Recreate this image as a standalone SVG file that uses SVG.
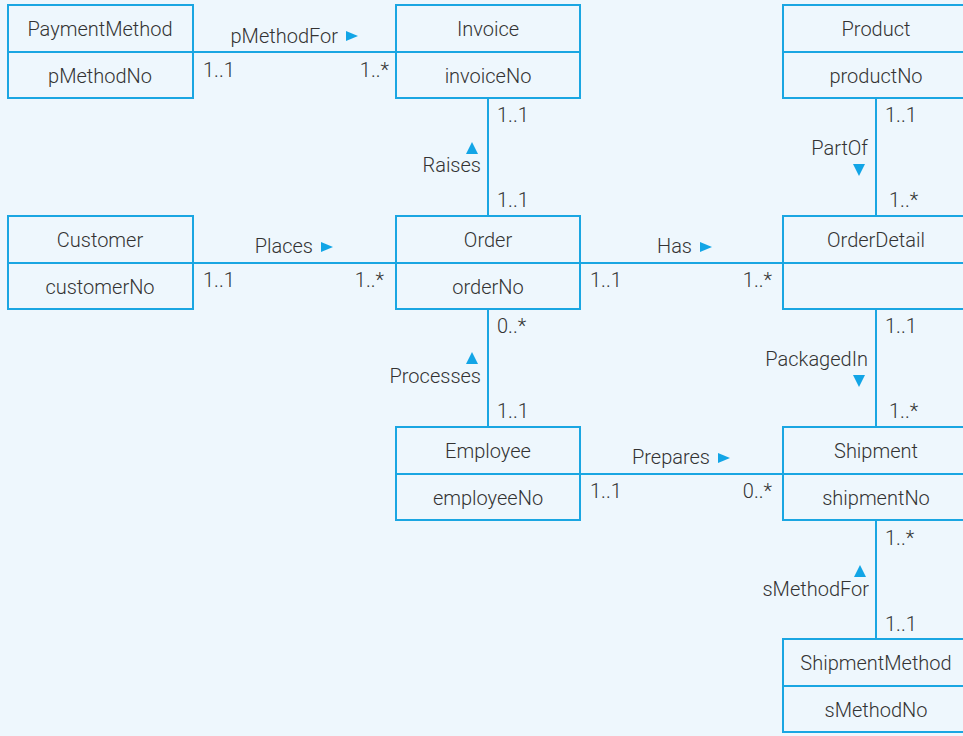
<svg xmlns="http://www.w3.org/2000/svg" width="963" height="736" viewBox="0 0 963 736">
<defs>
<style>
.bg{fill:#eef7fd}
.box{fill:none;stroke:#1aa6e2;stroke-width:2}
.ln{fill:none;stroke:#1aa6e2;stroke-width:2}
.t{font-family:Roboto,"Liberation Sans",Arial,sans-serif;font-weight:300;font-size:20px;fill:#333}
.c{text-anchor:middle}
.e{text-anchor:end}
.tri{fill:#12a5e6}
</style>
</defs>
<rect class="bg" x="0" y="0" width="963" height="736"/>
<g id="connectors">
<line class="ln" x1="193" y1="52" x2="396" y2="52"/>
<line class="ln" x1="488" y1="98" x2="488" y2="216"/>
<line class="ln" x1="876" y1="98" x2="876" y2="216"/>
<line class="ln" x1="193" y1="263" x2="396" y2="263"/>
<line class="ln" x1="580" y1="263" x2="783" y2="263"/>
<line class="ln" x1="488" y1="309" x2="488" y2="427"/>
<line class="ln" x1="876" y1="309" x2="876" y2="427"/>
<line class="ln" x1="580" y1="474" x2="783" y2="474"/>
<line class="ln" x1="876" y1="520" x2="876" y2="639"/>
<text class="t e" x="338" y="43">pMethodFor</text><polygon class="tri" points="346,31 358,36 346,41"/>
<text class="t" x="203" y="77">1..1</text><text class="t e" x="389" y="77">1..*</text>
<text class="t" x="497" y="122">1..1</text><text class="t" x="497" y="207">1..1</text>
<polygon class="tri" points="472,142 478,154 466,154"/><text class="t e" x="481" y="172">Raises</text>
<text class="t e" x="313" y="253">Places</text><polygon class="tri" points="321,242 333,247 321,252"/>
<text class="t" x="203" y="287">1..1</text><text class="t e" x="384" y="287">1..*</text>
<text class="t e" x="692" y="253">Has</text><polygon class="tri" points="700,242 712,247 700,252"/>
<text class="t" x="590" y="287">1..1</text><text class="t e" x="772" y="287">1..*</text>
<text class="t" x="885" y="122">1..1</text><text class="t e" x="868" y="155">PartOf</text>
<polygon class="tri" points="853,164 865,164 859,176"/><text class="t" x="889" y="207">1..*</text>
<text class="t" x="497" y="333">0..*</text><polygon class="tri" points="472,352 478,364 466,364"/>
<text class="t e" x="481" y="383">Processes</text><text class="t" x="497" y="418">1..1</text>
<text class="t" x="885" y="333">1..1</text><text class="t e" x="868" y="366">PackagedIn</text>
<polygon class="tri" points="853,375 865,375 859,387"/><text class="t" x="889" y="418">1..*</text>
<text class="t e" x="710" y="464">Prepares</text><polygon class="tri" points="718,453 730,458 718,463"/>
<text class="t" x="590" y="498">1..1</text><text class="t e" x="772" y="498">0..*</text>
<text class="t" x="885" y="545">1..*</text><polygon class="tri" points="860,565 866,577 854,577"/>
<text class="t e" x="869" y="596">sMethodFor</text><text class="t" x="885" y="631">1..1</text>
</g>
<g id="PaymentMethod"><rect class="box" x="8" y="5" width="185" height="93"/><line class="ln" x1="8" y1="52" x2="193" y2="52"/><text class="t c" x="100" y="36">PaymentMethod</text><text class="t c" x="100" y="83">pMethodNo</text></g>
<g id="Invoice"><rect class="box" x="396" y="5" width="184" height="93"/><line class="ln" x1="396" y1="52" x2="580" y2="52"/><text class="t c" x="488" y="36">Invoice</text><text class="t c" x="488" y="83">invoiceNo</text></g>
<g id="Product"><rect class="box" x="783" y="5" width="186" height="93"/><line class="ln" x1="783" y1="52" x2="969" y2="52"/><text class="t c" x="876" y="36">Product</text><text class="t c" x="876" y="83">productNo</text></g>
<g id="Customer"><rect class="box" x="8" y="216" width="185" height="93"/><line class="ln" x1="8" y1="263" x2="193" y2="263"/><text class="t c" x="100" y="247">Customer</text><text class="t c" x="100" y="294">customerNo</text></g>
<g id="Order"><rect class="box" x="396" y="216" width="184" height="93"/><line class="ln" x1="396" y1="263" x2="580" y2="263"/><text class="t c" x="488" y="247">Order</text><text class="t c" x="488" y="294">orderNo</text></g>
<g id="OrderDetail"><rect class="box" x="783" y="216" width="186" height="93"/><line class="ln" x1="783" y1="263" x2="969" y2="263"/><text class="t c" x="876" y="247">OrderDetail</text></g>
<g id="Employee"><rect class="box" x="396" y="427" width="184" height="93"/><line class="ln" x1="396" y1="474" x2="580" y2="474"/><text class="t c" x="488" y="458">Employee</text><text class="t c" x="488" y="505">employeeNo</text></g>
<g id="Shipment"><rect class="box" x="783" y="427" width="186" height="93"/><line class="ln" x1="783" y1="474" x2="969" y2="474"/><text class="t c" x="876" y="458">Shipment</text><text class="t c" x="876" y="505">shipmentNo</text></g>
<g id="ShipmentMethod"><rect class="box" x="783" y="639" width="186" height="93"/><line class="ln" x1="783" y1="686" x2="969" y2="686"/><text class="t c" x="876" y="670">ShipmentMethod</text><text class="t c" x="876" y="717">sMethodNo</text></g>
</svg>
